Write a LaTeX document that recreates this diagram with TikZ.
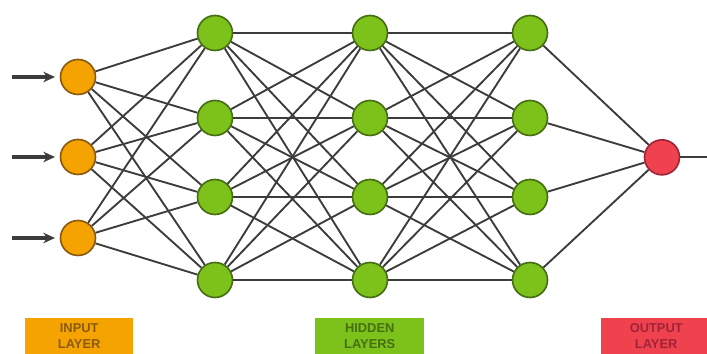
\documentclass[tikz,border=0pt]{standalone}
\usepackage{fontspec}
\setsansfont{Liberation Sans}
\usetikzlibrary{arrows,arrows.meta,calc}
\definecolor{inorange}{HTML}{F5A300}
\definecolor{indark}{HTML}{8A5A10}
\definecolor{hidgreen}{HTML}{7DC21A}
\definecolor{hiddark}{HTML}{466E12}
\definecolor{outred}{HTML}{F0424E}
\definecolor{outdark}{HTML}{A02438}
\definecolor{wire}{HTML}{3C3C3C}
\tikzset{%
        unit/.style = {circle, line width = 1.4pt, minimum size = 1.05cm, inner sep = 0pt},
        inunit/.style = {unit, fill = inorange, draw = indark},
        hidunit/.style = {unit, fill = hidgreen, draw = hiddark},
        outunit/.style = {unit, fill = outred, draw = outdark},
        feed/.style = {draw = wire, line width = 3pt, -{Stealth[length=10pt,width=9pt]}, shorten >= 4pt},
        tag/.style = {minimum width = #1, minimum height = 1.08cm, inner sep = 0pt, anchor = south west,
                      align = center, font = \sffamily\bfseries\fontsize{11}{13.5}\selectfont}
}
\tikzstyle{every edge}=[
    draw = wire,
    line width = 1.6pt,
]

\begin{document}
\begin{tikzpicture}
            \useasboundingbox (0, 0) rectangle (21.21, 10.62);
            \clip (0, 0) rectangle (21.21, 10.62);
            % layers
            \node[inunit] (i1) at (2.34, 8.31) {};
            \node[inunit] (i2) at (2.34, 5.91) {};
            \node[inunit] (i3) at (2.34, 3.48) {};
            \node[hidunit] (a1) at (6.45, 9.63) {};
            \node[hidunit] (a2) at (6.45, 7.08) {};
            \node[hidunit] (a3) at (6.45, 4.71) {};
            \node[hidunit] (a4) at (6.45, 2.22) {};
            \node[hidunit] (b1) at (11.1, 9.63) {};
            \node[hidunit] (b2) at (11.1, 7.08) {};
            \node[hidunit] (b3) at (11.1, 4.71) {};
            \node[hidunit] (b4) at (11.1, 2.22) {};
            \node[hidunit] (c1) at (15.9, 9.63) {};
            \node[hidunit] (c2) at (15.9, 7.08) {};
            \node[hidunit] (c3) at (15.9, 4.71) {};
            \node[hidunit] (c4) at (15.9, 2.22) {};
            \node[outunit] (o) at (19.86, 5.9) {};
            % free ends
            \coordinate (x1) at (0.36, 8.31);
            \coordinate (x2) at (0.36, 5.91);
            \coordinate (x3) at (0.36, 3.48);
            \coordinate (y) at (21.4, 5.9);
            \draw[feed] (x1) -- (i1);
            \draw[feed] (x2) -- (i2);
            \draw[feed] (x3) -- (i3);
            \path
            (i1) edge (a1) edge (a2) edge (a3) edge (a4)
            (i2) edge (a1) edge (a2) edge (a3) edge (a4)
            (i3) edge (a1) edge (a2) edge (a3) edge (a4)
            (a1) edge (b1) edge (b2) edge (b3) edge (b4)
            (a2) edge (b1) edge (b2) edge (b3) edge (b4)
            (a3) edge (b1) edge (b2) edge (b3) edge (b4)
            (a4) edge (b1) edge (b2) edge (b3) edge (b4)
            (b1) edge (c1) edge (c2) edge (c3) edge (c4)
            (b2) edge (c1) edge (c2) edge (c3) edge (c4)
            (b3) edge (c1) edge (c2) edge (c3) edge (c4)
            (b4) edge (c1) edge (c2) edge (c3) edge (c4)
            (c1) edge (o)
            (c2) edge (o)
            (c3) edge (o)
            (c4) edge (o)
            (o) edge (y)
            ;
            % captions
            \node[tag = 3.24cm, fill = inorange, text = indark] (tin) at (0.75, 0) {INPUT\\LAYER};
            \node[tag = 3.27cm, fill = hidgreen, text = hiddark] (thid) at (9.45, 0) {HIDDEN\\LAYERS};
            \node[tag = 3.3cm, fill = outred, text = outdark] (tout) at (18.03, 0) {OUTPUT\\LAYER};
        \end{tikzpicture}
\end{document}
